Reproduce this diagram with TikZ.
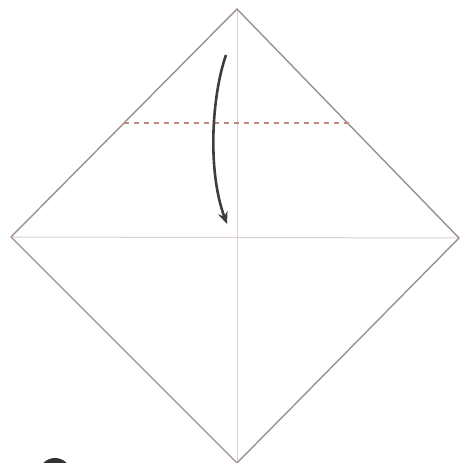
\documentclass[tikz,border=0pt]{standalone}
\usetikzlibrary{arrows.meta}
\definecolor{edgec}{HTML}{9C9090}
\definecolor{creasec}{HTML}{DCCFCF}
\definecolor{dashc}{HTML}{C2887E}
\definecolor{arrowc}{HTML}{3E3E3E}
\tikzset{
  outline/.style={draw=edgec, line width=1.4pt, line join=miter},
  crease/.style={draw=creasec, line width=1pt},
  valley/.style={draw=dashc, line width=1.2pt, dash pattern=on 5pt off 5pt},
  foldarrow/.style={draw=arrowc, line width=2.6pt, -{Stealth[length=12pt,width=10pt]}},
}
\begin{document}
\begin{tikzpicture}[x=1pt,y=-1pt]
\useasboundingbox (0,0) rectangle (461,463);
\clip (0,0) rectangle (461,463);
\fill[white] (0,0) rectangle (461,463);
\coordinate (T) at (237,9);
\coordinate (L) at (11,237);
\coordinate (R) at (459,238);
\coordinate (B) at (237,463);
\coordinate (DL) at (124,123);
\coordinate (DR) at (350,123);
\coordinate (A0) at (226,55);
\coordinate (A1) at (227,224);
\draw[crease] (T) -- (B);
\draw[crease] (L) -- (R);
\draw[outline] (T) -- (R) -- (B) -- (L) -- cycle;
\draw[valley] (DL) -- (DR);
\draw[foldarrow] (A0) .. controls (212,95) and (207,170) .. (A1);
\fill[arrowc!80!black] (55,474) circle (16);
\end{tikzpicture}
\end{document}
